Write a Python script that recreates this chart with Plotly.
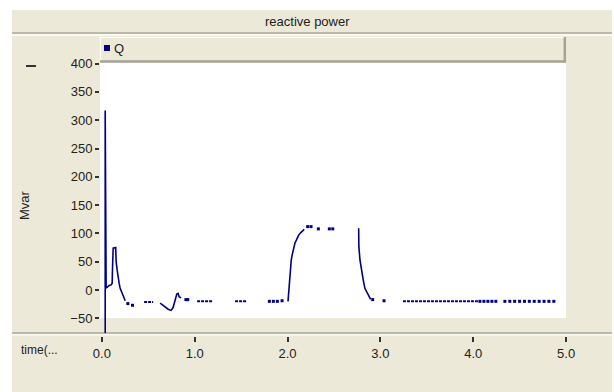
import plotly.graph_objects as go

# ---------------- data ----------------
# continuous parts of the Q trace (None = break)
curve_t = [0.036, 0.036, 0.046, 0.079, 0.100, 0.111, 0.115, 0.122, 0.149, 0.154, 0.165, 0.175, 0.186, 0.197, 0.215, 0.235, 0.252,
           None,
           0.628, 0.681, 0.714, 0.746, 0.767, 0.789, 0.807, 0.821, 0.832, 0.854,
           None,
           2.005, 2.010, 2.020, 2.030, 2.040, 2.050, 2.060, 2.070, 2.080, 2.095, 2.110, 2.120, 2.140, 2.160, 2.180,
           None,
           2.766, 2.768, 2.780, 2.798, 2.815, 2.833, 2.855, 2.877, 2.895]
curve_q = [-85, 317, 3.5, 8, 9, 12, 39, 74, 75, 50, 35, 21, 12, 3, -5, -15, -19,
           None,
           -23, -30, -34, -36, -31, -18, -7, -6, -12, -14,
           None,
           -20, -7, 21, 37, 53, 62, 70, 78, 83, 88, 94, 97, 101, 104, 107,
           None,
           109, 77, 53, 32, 18, 3, -5, -13, -16.5]

# flat stretches that the original draws as a broken line
flat_t = [0.455, 0.553, None, 1.026, 1.198, None, 1.435, 1.564, None, 3.243, 4.050]
flat_q = [-21, -21, None, -20, -20, None, -20, -20, None, -20, -20]

# isolated samples drawn as dots
dot_t = [0.28, 0.33, 0.905, 0.925, 1.804, 1.847, 1.890, 1.941,
         2.217, 2.253, 2.332, 2.450, 2.487, 2.917, 3.039,
         4.072, 4.115, 4.158, 4.201, 4.244,
         4.341, 4.394, 4.446, 4.499, 4.552, 4.604, 4.657, 4.710, 4.763, 4.815, 4.868]
dot_q = [-24, -27, -17, -17, -20, -20, -20, -19,
         112, 112, 108, 108, 108, -17, -19,
         -20, -20, -20, -20, -20,
         -20, -20, -20, -20, -20, -20, -20, -20, -20, -20, -20]

y_ticks = [-50, 0, 50, 100, 150, 200, 250, 300, 350, 400]
x_ticks = [0, 1, 2, 3, 4, 5]
x_tick_labels = ["0.0", "1.0", "2.0", "3.0", "4.0", "5.0"]

title_text = "reactive power"
y_title = "Mvar"
x_title = "time(..."
series_name = "Q"

# ---------------- layout geometry ----------------
W, H = 614, 392
ML, MR, MT, MB = 100, 47, 37, 50
PW, PH = W - ML - MR, H - MT - MB

def px(x):
    return (x - ML) / PW

def py(y):
    return (H - MB - y) / PH

BEIGE = "#ECE9D8"
GRAY = "#ACA899"
NAVY = "#000080"
TXT = "#222222"
FONT = "Arial, Liberation Sans, sans-serif"

fig = go.Figure()
fig.add_trace(go.Scatter(x=curve_t, y=curve_q, mode="lines", name=series_name,
                         line=dict(color=NAVY, width=1.6), connectgaps=False, showlegend=False))
fig.add_trace(go.Scatter(x=flat_t, y=flat_q, mode="lines", name=series_name,
                         line=dict(color=NAVY, width=2, dash="3px,1px"), connectgaps=False, showlegend=False))
fig.add_trace(go.Scatter(x=dot_t, y=dot_q, mode="markers", name=series_name,
                         marker=dict(color=NAVY, symbol="square", size=3, line=dict(width=0)), showlegend=False))

shapes = []
def rect(x0, y0, x1, y1, fill, line_color=None, lw=0):
    shapes.append(dict(type="rect", xref="paper", yref="paper", x0=px(x0), x1=px(x1), y0=py(y1), y1=py(y0),
                       fillcolor=fill, line=dict(width=lw, color=line_color or fill), layer="below"))

def hline(x0, x1, y, color, lw):
    shapes.append(dict(type="line", xref="paper", yref="paper", x0=px(x0), x1=px(x1), y0=py(y), y1=py(y),
                       line=dict(color=color, width=lw), layer="below"))

def vline(x, y0, y1, color, lw):
    shapes.append(dict(type="line", xref="paper", yref="paper", x0=px(x), x1=px(x), y0=py(y0), y1=py(y1),
                       line=dict(color=color, width=lw), layer="below"))

# beige panel
rect(12, 10, 612, 392, BEIGE)
# title separator (etched)
hline(12, 612, 33, GRAY, 1.5)
hline(12, 612, 35, "#FFFFFF", 1.5)
# white plotting region
rect(100, 62, 566, 318, "#FFFFFF")
# legend bar (raised)
rect(100, 37, 566, 62, BEIGE)
hline(100, 566, 37.5, "#FFFFFF", 1.2)
vline(100.5, 37, 62, "#FFFFFF", 1.2)
hline(100, 566, 61.5, "#A5A293", 2.5)
vline(564.8, 37, 62, "#A5A293", 2.5)
# legend square
rect(104, 45, 110, 51, NAVY)
# bottom separator (etched)
hline(12, 612, 333, GRAY, 1.5)
hline(12, 612, 334.8, "#FFFFFF", 1.2)
# little dash at upper left
hline(26, 36, 66, "#333333", 2)

annotations = [
    dict(text=title_text, xref="paper", yref="paper", x=px(307), y=py(22), showarrow=False,
         font=dict(size=13, color=TXT, family=FONT), xanchor="center", yanchor="middle"),
    dict(text=series_name, xref="paper", yref="paper", x=px(112), y=py(48.5), showarrow=False,
         font=dict(size=13, color=TXT, family=FONT), xanchor="left", yanchor="middle"),
    dict(text=y_title, xref="paper", yref="paper", x=px(24), y=py(205), showarrow=False, textangle=-90,
         font=dict(size=13, color=TXT, family=FONT), xanchor="center", yanchor="middle"),
    dict(text=x_title, xref="paper", yref="paper", x=px(19), y=py(350), showarrow=False,
         font=dict(size=12, color=TXT, family=FONT), xanchor="left", yanchor="middle"),
]

fig.update_layout(
    width=W, height=H,
    margin=dict(l=ML, r=MR, t=MT, b=MB, pad=0),
    paper_bgcolor="#FFFFFF",
    plot_bgcolor="rgba(0,0,0,0)",
    showlegend=False,
    shapes=shapes,
    annotations=annotations,
    font=dict(family=FONT, size=12, color=TXT),
    xaxis=dict(range=[-0.02, 5.01], tickvals=x_ticks, ticktext=x_tick_labels,
               ticks="outside", ticklen=5, tickwidth=1.5, tickcolor="#333333",
               showgrid=False, zeroline=False, showline=False,
               anchor="free", position=(H - MB - 336) / PH,
               tickfont=dict(size=13, color=TXT, family=FONT)),
    yaxis=dict(range=[(290 - 333) / 0.566, (290 - 37) / 0.566], domain=[(H - MB - 333) / PH, 1],
               tickvals=y_ticks, ticks="outside", ticklen=4, tickwidth=1.5, tickcolor="#333333",
               showgrid=False, zeroline=False, showline=False,
               tickfont=dict(size=13, color=TXT, family=FONT)),
)

fig.write_html("out.html", config={"displayModeBar": False},
               post_script="document.body.style.margin='0';document.body.style.padding='0';")
